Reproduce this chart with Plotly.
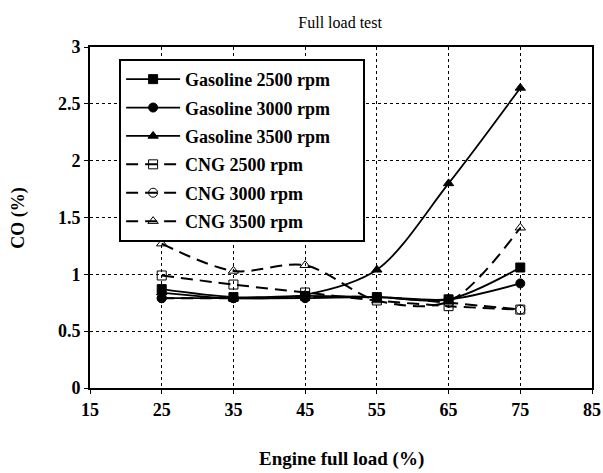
import plotly.graph_objects as go

load = [25, 35, 45, 55, 65, 75]
gas_2500 = [0.87, 0.80, 0.81, 0.80, 0.78, 1.06]
gas_3000 = [0.79, 0.79, 0.79, 0.80, 0.78, 0.92]
gas_3500 = [0.84, 0.79, 0.82, 1.04, 1.80, 2.64]
cng_2500 = [0.99, 0.91, 0.84, 0.77, 0.72, 0.69]
cng_3000 = [0.79, 0.79, 0.80, 0.80, 0.75, 0.69]
cng_3500 = [1.27, 1.03, 1.08, 0.77, 0.76, 1.41]

x_ticks = [15, 25, 35, 45, 55, 65, 75, 85]
y_ticks = [0, 0.5, 1, 1.5, 2, 2.5, 3]

series = [
    ("Gasoline 2500 rpm", gas_2500, "square", "solid"),
    ("Gasoline 3000 rpm", gas_3000, "circle", "solid"),
    ("Gasoline 3500 rpm", gas_3500, "triangle-up", "solid"),
    ("CNG 2500 rpm", cng_2500, "square-open", "12px,7px"),
    ("CNG 3000 rpm", cng_3000, "circle-open", "12px,7px"),
    ("CNG 3500 rpm", cng_3500, "triangle-up-open", "12px,7px"),
]

font_family = "Liberation Serif, Times New Roman, serif"

fig = go.Figure()
for i, (name, vals, sym, dash) in enumerate(series):
    fig.add_trace(go.Scatter(
        x=load, y=vals, name=f"<b>{name}</b>" + "&nbsp;" * 6, mode="lines+markers",
        line=dict(color="black", width=1.8 if dash == "solid" else 2, dash=dash,
                  shape="spline", smoothing=0.9),
        marker=dict(symbol=sym, size=9, color="black",
                    line=dict(color="black", width=1)),
        legendgroup=f"g{i}",
    ))

axis_common = dict(
    showline=True, linecolor="black", linewidth=2, mirror=True,
    showgrid=True, gridcolor="black", gridwidth=1, griddash="3px,3px",
    zeroline=False, ticks="outside", ticklen=4, tickcolor="black",
    tickfont=dict(family=font_family, size=18, color="black"),
    automargin=False, tickmode="array",
)

fig.update_layout(
    width=603, height=473, autosize=False,
    margin=dict(l=90, r=11, t=47, b=85),
    paper_bgcolor="white", plot_bgcolor="white",
    title=dict(text="Full load test", x=0.564, xanchor="center", y=0.953, yanchor="middle",
               font=dict(family=font_family, size=16, color="black")),
    xaxis=dict(range=[15, 85], tickvals=x_ticks,
               ticktext=[f"<b>{v}</b>" for v in x_ticks], **axis_common),
    yaxis=dict(range=[0, 3], tickvals=y_ticks,
               ticktext=[f"<b>{v:g}</b>" for v in y_ticks], **axis_common),
    legend=dict(x=0.058, y=0.965, xanchor="left", yanchor="top",
                bgcolor="white", bordercolor="black", borderwidth=2,
                font=dict(family=font_family, size=18, color="black"),
                tracegroupgap=2, itemwidth=54),
    showlegend=True,
    annotations=[
        dict(text="<b>Engine full load (%)</b>", xref="paper", yref="paper",
             x=0.5, y=-0.208, xanchor="center", yanchor="middle", showarrow=False,
             font=dict(family=font_family, size=19, color="black")),
        dict(text="<b>CO (%)</b>", xref="paper", yref="paper",
             x=-0.143, y=0.5, xanchor="center", yanchor="middle", showarrow=False,
             textangle=-90, font=dict(family=font_family, size=18, color="black")),
    ],
)

fig.write_html(
    "out.html",
    config={"responsive": False, "displayModeBar": False},
    post_script="document.body.style.margin='0';document.body.style.overflow='hidden';",
)
